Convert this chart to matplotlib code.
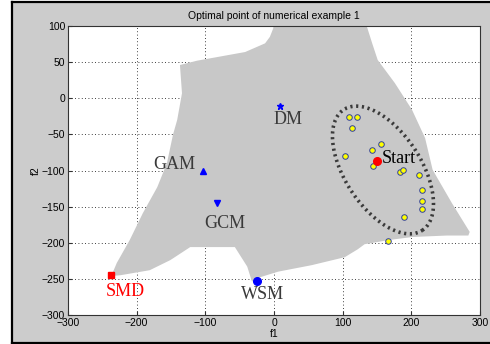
import matplotlib
matplotlib.use("Agg")
import matplotlib.pyplot as plt
import numpy as np
from matplotlib.patches import Polygon, Rectangle
from matplotlib.lines import Line2D

# feasible region outline (f1, f2)
region_f1 = [-237, -229, -210, -191, -170, -156, -147, -141, -134, -137,
             -112, -42, -13, -6, -1, -1, 135,
             143, 151, 176, 201, 220, 231, 259, 285, 283,
             252, 202, 169, 132, 122, 103, 55, 6, -28, -32,
             -39, -57, -122, -151, -181, -224]
region_f2 = [-246, -228, -196, -159, -123, -90, -50, -30, 7, 46,
             52, 64, 76, 85, 97, 100, 100,
             76, 53, 21, -16, -55, -99, -145, -185, -190,
             -190, -192, -196, -202, -209, -220, -231, -240, -250, -254,
             -233, -206, -206, -224, -238, -245]

# yellow points
pts_f1 = [109, 121, 114, 156, 143, 103, 144, 183, 188, 211, 216, 216, 216, 189, 166]
pts_f2 = [-26, -26, -41, -63, -72, -80, -94, -102, -99, -106, -127, -142, -153, -164, -198]

start = (150, -87)
dm = (9, -11)
gam = (-103, -101)
gcm = (-83, -145)
wsm = (-25, -253)
smd = (-237, -245)

xticks = [-300, -200, -100, 0, 100, 200, 300]
yticks = [-300, -250, -200, -150, -100, -50, 0, 50, 100]

fig = plt.figure(figsize=(4.9, 3.44), dpi=100, facecolor="white")
fig.patches.append(Rectangle((0.025, 0.003), 0.975, 0.992, transform=fig.transFigure,
                             facecolor="#cccccc", edgecolor="none", zorder=-10))
for xs, ys in [([0.025, 0.025], [0.003, 0.995]), ([0.025, 1.0], [0.995, 0.995]),
               ([0.025, 1.0], [0.004, 0.004])]:
    fig.lines.append(Line2D(xs, ys, transform=fig.transFigure, color="black", lw=1.6))

ax = fig.add_axes([0.1388, 0.0843, 0.8408, 0.8401])
ax.set_facecolor("white")

ax.add_patch(Polygon(np.column_stack([region_f1, region_f2]), closed=True,
                     facecolor="#c8c8c8", edgecolor="none", zorder=2))

# dotted ellipse around the yellow points (centre + two conjugate half-axes)
t = np.linspace(0, 2 * np.pi, 300)
ex = 158.7 + 57.1 * np.cos(t) + 46.4 * np.sin(t)
ey = -99.3 - 83.6 * np.cos(t) + 28.7 * np.sin(t)
ax.plot(ex, ey, color="#3a3a3a", lw=2.6, linestyle=(0, (0.6, 1.0)), zorder=3)

ax.plot(pts_f1, pts_f2, "o", ms=4, mfc="yellow", mec="#3040a0", mew=0.7, zorder=5)
ax.plot(*start, "o", ms=5.5, mfc="red", mec="red", zorder=6)
ax.plot(*dm, "*", ms=5, color="blue", zorder=6)
ax.plot(*gam, "^", ms=5, color="blue", zorder=6)
ax.plot(*gcm, "v", ms=5, color="blue", zorder=6)
ax.plot(*wsm, "o", ms=5.5, color="blue", zorder=6)
ax.plot(*smd, "s", ms=4, color="red", zorder=6)

lab = dict(family="Liberation Serif", fontsize=13, color="#3a3a3a", zorder=7)
ax.text(157, -83, "Start", ha="left", va="center", **{**lab, "color": "black"})
ax.text(20, -30, "DM", ha="center", va="center", **lab)
ax.text(-115, -92, "GAM", ha="right", va="center", **lab)
ax.text(-71, -173, "GCM", ha="center", va="center", **lab)
ax.text(-16, -272, "WSM", ha="center", va="center", **lab)
ax.text(-217, -268, "SMD", ha="center", va="center", **{**lab, "color": "red"})

ax.set_xlim(-300, 300)
ax.set_ylim(-300, 100)
ax.set_xticks(xticks)
ax.set_yticks(yticks)
ax.tick_params(direction="in", labelsize=7.5, length=3, color="#333333", pad=2)
for tl in ax.get_xticklabels() + ax.get_yticklabels():
    tl.set_family("Liberation Sans")
ax.grid(True, color="black", linestyle=(0, (1, 3)), lw=0.6, zorder=1)
ax.set_axisbelow(True)
for s in ax.spines.values():
    s.set_color("#333333")
    s.set_linewidth(0.8)

ax.set_title("Optimal point of numerical example 1", fontsize=7.5, family="Liberation Sans", pad=5)
ax.set_xlabel("f1", fontsize=7.5, family="Liberation Sans", labelpad=1)
ax.set_ylabel("f2", fontsize=7.5, family="Liberation Sans", labelpad=1)

fig.savefig("out.png", dpi=100, facecolor=fig.get_facecolor())
